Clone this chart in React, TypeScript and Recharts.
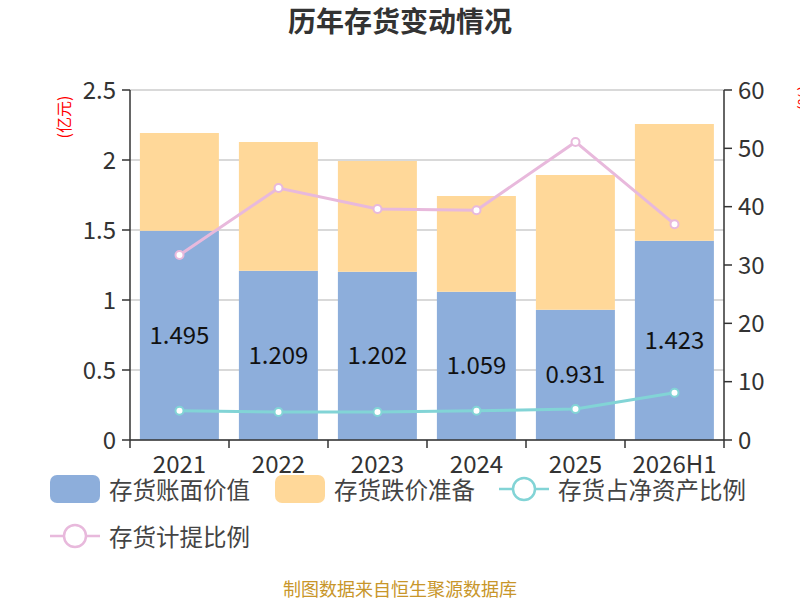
import React from 'react';
import { ComposedChart, Bar, Line, XAxis, YAxis, CartesianGrid, LabelList } from 'recharts';

const categories = ['2021', '2022', '2023', '2024', '2025', '2026H1'];
const bookValue = [1.495, 1.209, 1.202, 1.059, 0.931, 1.423];
const impairment = [0.698, 0.92, 0.79, 0.684, 0.962, 0.834];
const netAssetRatio = [5.0, 4.8, 4.8, 5.0, 5.3, 8.1];
const provisionRatio = [31.7, 43.2, 39.6, 39.4, 51.1, 37.0];
const leftTicks = [0, 0.5, 1, 1.5, 2, 2.5];
const rightTicks = [0, 10, 20, 30, 40, 50, 60];

const data = categories.map((c, i) => ({
  name: c,
  book: bookValue[i],
  imp: impairment[i],
  net: netAssetRatio[i],
  prov: provisionRatio[i],
}));

const FONT = '"Noto Sans CJK SC", "Noto Sans", sans-serif';
const BLUE = '#8daedb';
const ORANGE = '#ffd899';
const TEAL = '#82d4d6';
const PINK = '#e8b9dc';
const AXIS = '#333333';

const MARGIN = { top: 90, right: 16, bottom: 130, left: 70 };
const YW = 60;
const PLOT_W = 800 - MARGIN.left - MARGIN.right - 2 * YW;
const BAND = PLOT_W / categories.length;

const XTick = (props: any) => {
  const { x, y, payload, index } = props;
  const half = BAND / 2;
  return (
    <g>
      <line x1={x - half} x2={x - half} y1={y} y2={y + 8} stroke={AXIS} strokeWidth={1.5} />
      {index === categories.length - 1 && (
        <line x1={x + half} x2={x + half} y1={y} y2={y + 8} stroke={AXIS} strokeWidth={1.5} />
      )}
      <text x={x} y={y + 33} textAnchor="middle" fontSize={24} fill={AXIS} fontFamily={FONT}>
        {payload.value}
      </text>
    </g>
  );
};

const LegendItem = ({ kind, color, label }: { kind: 'rect' | 'line'; color: string; label: string }) => (
  <div style={{ display: 'flex', alignItems: 'center', marginRight: 10 }}>
    <svg width={52} height={30} style={{ marginRight: 8 }}>
      {kind === 'rect' ? (
        <rect x={1} y={1} width={50} height={28} rx={7} fill={color} />
      ) : (
        <g>
          <line x1={1} x2={51} y1={15} y2={15} stroke={color} strokeWidth={2.5} />
          <circle cx={26} cy={15} r={11} fill="#fff" stroke={color} strokeWidth={2.5} />
        </g>
      )}
    </svg>
    <span style={{ fontSize: 23.5, lineHeight: '32px', color: '#444', fontFamily: FONT, whiteSpace: 'nowrap' }}>{label}</span>
  </div>
);

export default function App() {
  return (
    <div style={{ position: 'absolute', left: 0, top: 0, width: 800, height: 600, background: '#fff', fontFamily: FONT, overflow: 'hidden' }}>
      <div style={{ position: 'absolute', left: 0, top: 0, width: 800, textAlign: 'center', fontSize: 28, fontWeight: 'bold', color: '#333' }}>
        历年存货变动情况
      </div>
      <ComposedChart width={800} height={600} data={data} margin={MARGIN} barCategoryGap="10%">
        <CartesianGrid yAxisId="left" vertical={false} stroke="#cccccc" strokeWidth={1.5} />
        <XAxis
          dataKey="name"
          tick={<XTick />}
          tickLine={false}
          tickSize={0}
          tickMargin={0}
          height={30}
          stroke={AXIS}
          strokeWidth={1.5}
          interval={0}
        />
        <YAxis
          yAxisId="left"
          orientation="left"
          width={YW}
          domain={[0, 2.5]}
          ticks={leftTicks}
          tickSize={8}
          tickMargin={6}
          stroke={AXIS}
          strokeWidth={1.5}
          tick={{ fontSize: 24, fill: AXIS, fontFamily: FONT }}
          interval={0}
        />
        <YAxis
          yAxisId="right"
          orientation="right"
          width={YW}
          domain={[0, 60]}
          ticks={rightTicks}
          tickSize={8}
          tickMargin={6}
          stroke={AXIS}
          strokeWidth={1.5}
          tick={{ fontSize: 24, fill: AXIS, fontFamily: FONT }}
          interval={0}
        />
        <Bar yAxisId="left" dataKey="book" stackId="s" fill={BLUE} isAnimationActive={false}>
          <LabelList dataKey="book" position="center" fill="#111" fontSize={24} fontFamily={FONT} />
        </Bar>
        <Bar yAxisId="left" dataKey="imp" stackId="s" fill={ORANGE} isAnimationActive={false} />
        <Line
          yAxisId="right"
          dataKey="net"
          stroke={TEAL}
          strokeWidth={3}
          dot={{ r: 4, fill: '#fff', stroke: TEAL, strokeWidth: 2 }}
          isAnimationActive={false}
        />
        <Line
          yAxisId="right"
          dataKey="prov"
          stroke={PINK}
          strokeWidth={3}
          dot={{ r: 4, fill: '#fff', stroke: PINK, strokeWidth: 2 }}
          isAnimationActive={false}
        />
      </ComposedChart>
      <div style={{ position: 'absolute', left: 63, top: 117, transform: 'translate(-50%,-50%) rotate(-90deg)', color: 'red', fontSize: 16, whiteSpace: 'nowrap' }}>
        (亿元)
      </div>
      <div style={{ position: 'absolute', left: 803, top: 98, transform: 'translate(-50%,-50%) rotate(-90deg)', color: 'red', fontSize: 16, whiteSpace: 'nowrap' }}>
        (%)
      </div>
      <div style={{ position: 'absolute', left: 49, top: 473, display: 'flex', flexWrap: 'wrap', width: 740, rowGap: 15 }}>
        <LegendItem kind="rect" color={BLUE} label="存货账面价值" />
        <div style={{ width: 14 }} />
        <LegendItem kind="rect" color={ORANGE} label="存货跌价准备" />
        <div style={{ width: 13 }} />
        <LegendItem kind="line" color={TEAL} label="存货占净资产比例" />
        <LegendItem kind="line" color={PINK} label="存货计提比例" />
      </div>
      <div style={{ position: 'absolute', left: 0, top: 578, width: 800, textAlign: 'center', fontSize: 18, lineHeight: '20px', color: '#c8962a' }}>
        制图数据来自恒生聚源数据库
      </div>
    </div>
  );
}
